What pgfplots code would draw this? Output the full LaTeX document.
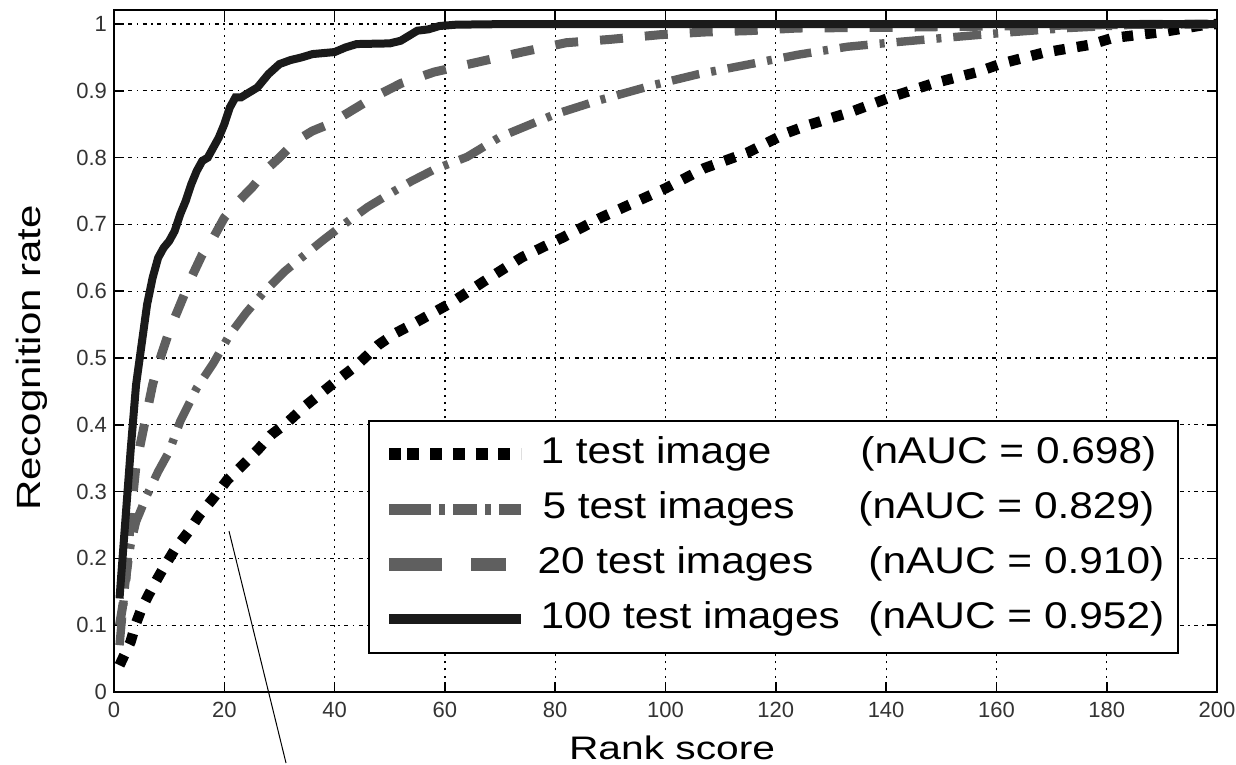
\documentclass[border=0pt]{standalone}
\usepackage{fontspec}
\setmainfont{Liberation Sans}
\newfontfamily\legsans[FakeStretch=1.14]{Liberation Sans}
\newfontfamily\labsans[FakeStretch=1.25]{Liberation Sans}
\usepackage{pgfplots}
\pgfplotsset{compat=1.18}
\definecolor{darkg}{HTML}{5F5F5F}
\definecolor{solidk}{HTML}{1A1A1A}
\begin{document}
\begin{tikzpicture}
\begin{axis}[
  name=ax,
  scale only axis, width=551.5pt, height=341pt,
  xmin=0, xmax=200, ymin=0, ymax=1.021,
  clip=false,
  axis line style={black, line width=0.9pt},
  xtick={0,20,40,60,80,100,120,140,160,180,200},
  ytick={0,0.1,0.2,0.3,0.4,0.5,0.6,0.7,0.8,0.9,1},
  yticklabels={0,0.1,0.2,0.3,0.4,0.5,0.6,0.7,0.8,0.9,1},
  /pgf/number format/assume math mode=true,
  tick label style={font=\fontsize{11}{13}\selectfont, text=black!80},
  xticklabel style={yshift=-1.5pt},
  major tick length=5pt,
  tick style={black, line width=0.8pt},
  grid=major,
  x grid style={black, line width=0.6pt, dash pattern=on 1pt off 2.6pt},
  y grid style={black, line width=0.6pt, dash pattern=on 2pt off 2.2pt on 0.8pt off 2.2pt},
  xlabel={Rank score},
  ylabel={Recognition rate},
  xlabel style={at={(axis description cs:0.506,-0.0821)}, anchor=center, font=\labsans\fontsize{16.3}{19}\selectfont},
  ylabel style={at={(axis description cs:-0.0743,0.49)}, anchor=center, font=\labsans\fontsize{16.8}{19}\selectfont},
  legend image code/.code={\path (0pt,0pt) -- (9pt,0pt); \draw[#1] (9pt,0pt) -- (66pt,0pt);},
  legend style={at={(axis description cs:0.2303,0.3988)}, anchor=north west,
    draw=black, line width=0.9pt, inner xsep=7pt, inner ysep=8pt,
    font=\legsans\fontsize{18.6}{22}\selectfont,
    nodes={inner sep=0pt, text height=13.5pt, text depth=4pt},
    row sep=10pt, column sep=6.5pt},
  legend cell align=left,
]
% legend images
\addlegendimage{black, line width=6pt, dash pattern=on 6pt off 5.4pt}
\addlegendentry{\makebox[160pt][l]{1 test image}(nAUC = 0.698)}
\addlegendimage{darkg, line width=5.6pt, dash pattern=on 12pt off 4pt on 3pt off 4pt}
\addlegendentry{\makebox[159pt][l]{\hspace{1pt}5 test images}(nAUC = 0.829)}
\addlegendimage{darkg, line width=6.3pt, dash pattern=on 17.5pt off 14.5pt}
\addlegendentry{\makebox[164pt][l]{\hspace{-1.5pt}20 test images}(nAUC = 0.910)}
\addlegendimage{solidk, line width=5pt}
\addlegendentry{\makebox[164pt][l]{100 test images}(nAUC = 0.952)}

% 1 test image
\addplot[forget plot, black, line width=5.2pt, dash pattern=on 5.6pt off 6pt] coordinates {
(1,0.04) (3,0.075) (4,0.103) (5,0.125) (7,0.157) (9,0.186) (11,0.213) (13.5,0.24) (15.5,0.265) (18,0.29) (20.5,0.317) (23,0.337) (26,0.362) (28.5,0.385) (31.5,0.404) (34.5,0.427) (37.5,0.447) (40.5,0.467) (44,0.489) (48,0.52) (51,0.537) (54,0.55) (61,0.582) (67.5,0.617) (74,0.651) (81.5,0.681) (88.5,0.711) (96,0.739) (100,0.754) (107,0.784) (115,0.808) (122,0.837) (126,0.849) (133.5,0.868) (141,0.891) (148.5,0.911) (156.5,0.928) (161,0.941) (168.5,0.957) (177,0.969) (181,0.979) (190,0.988) (198,0.999) (200,1.0)
};
% 5 test images
\addplot[forget plot, darkg, line width=4.2pt, dash pattern=on 14pt off 6pt on 2.5pt off 6pt] coordinates {
(1,0.07) (2,0.16) (3,0.22) (4,0.255) (5,0.275) (6,0.295) (8,0.33) (10,0.36) (12,0.405) (15,0.455) (18,0.492) (21,0.535) (24,0.568) (27,0.597) (31,0.63) (35,0.657) (38,0.677) (41,0.696) (46,0.726) (50,0.746) (54,0.765) (58,0.782) (64,0.801) (70,0.831) (75,0.848) (80,0.865) (88,0.886) (98,0.909) (106,0.925) (116,0.941) (124,0.954) (133,0.966) (142,0.973) (153,0.981) (163,0.988) (173,0.994) (185,0.999) (200,1.0)
};
% 20 test images
\addplot[forget plot, darkg, line width=4.5pt, dash pattern=on 11.5pt off 11pt] coordinates {
(1,0.10) (2,0.15) (3,0.26) (4,0.34) (5,0.38) (6,0.42) (7,0.46) (8,0.49) (10,0.54) (12,0.58) (14,0.62) (16,0.655) (18,0.68) (20,0.71) (22,0.73) (25,0.755) (28,0.785) (30,0.80) (33,0.825) (36,0.84) (39,0.85) (43,0.87) (47,0.89) (52,0.911) (58,0.928) (66,0.943) (74,0.958) (82,0.972) (90,0.977) (99,0.984) (107,0.988) (115,0.99) (124,0.994) (140,0.995) (160,0.997) (180,0.999) (200,1.0)
};
% 100 test images
\addplot[forget plot, solidk, line width=4pt] coordinates {
(1,0.14) (2,0.25) (3,0.36) (4,0.46) (5,0.52) (6,0.58) (7,0.62) (8,0.65) (9,0.665) (10,0.675) (11,0.69) (12,0.715) (13,0.735) (14,0.76) (15,0.78) (16,0.795) (17,0.80) (18,0.815) (19,0.83) (20,0.85) (21,0.875) (22,0.89) (23,0.89) (24,0.895) (26,0.905) (28,0.925) (30,0.94) (32,0.946) (34,0.95) (36,0.955) (40,0.958) (42,0.965) (44,0.97) (50,0.971) (52,0.975) (55,0.99) (57,0.992) (59,0.997) (62,0.999) (72,1.0) (200,1.0)
};
\draw[black, line width=0.5pt] (axis cs:20.85,0.241) -- (axis cs:31.19,-0.1063);
\end{axis}
\pgfresetboundingbox
\path[use as bounding box] ([shift={(-57pt,-36.5pt)}]ax.south west) rectangle ([shift={(561pt,346pt)}]ax.south west);
\end{tikzpicture}
\end{document}
